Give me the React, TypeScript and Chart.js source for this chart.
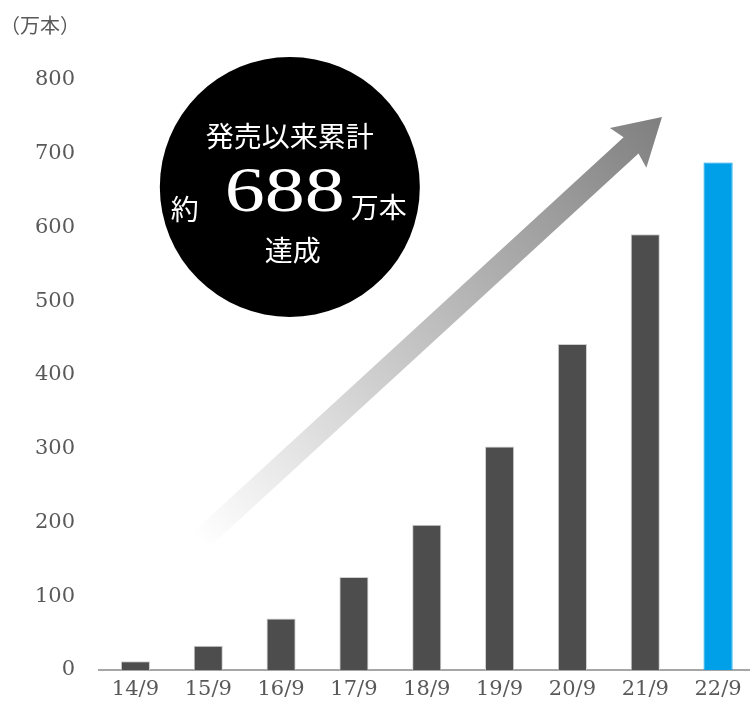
import React, { useEffect, useRef } from "react";
import { Chart, registerables } from "chart.js";

Chart.register(...registerables);

const categories = ["14/9", "15/9", "16/9", "17/9", "18/9", "19/9", "20/9", "21/9", "22/9"];
const salesValues = [12, 33, 70, 126, 197, 303, 442, 591, 688];
const yTickStep = 100;
const yMax = 800;
const unitLabel = "（万本）";
const badgeLine1 = "発売以来累計";
const badgePrefix = "約";
const badgeNumber = "688";
const badgeUnit = "万本";
const badgeLine3 = "達成";

const barColors = salesValues.map((_, i) => (i === salesValues.length - 1 ? "#00a0e9" : "#4d4d4d"));
const barBorders = salesValues.map((_, i) => (i === salesValues.length - 1 ? "#00a0e9" : "#cfcfcf"));

const CJK = '"Noto Sans CJK JP", "Noto Sans", sans-serif';
const SERIF = '"DejaVu Serif", serif';
const NUMSERIF = '"Liberation Serif", serif';

const decorPlugin = {
  id: "decor",
  beforeDatasetsDraw(chart: any) {
    const { ctx, scales } = chart;
    const x = scales.x;
    const y = scales.y;
    const x0 = x.getPixelForValue(0.886);
    const y0 = y.getPixelForValue(175);
    const x1 = x.getPixelForValue(7.23);
    const y1 = y.getPixelForValue(750);
    const dx = x1 - x0;
    const dy = y1 - y0;
    const len = Math.sqrt(dx * dx + dy * dy);
    const ang = Math.atan2(dy, dx);
    const shaftW = 22;
    const headL = 42;
    const headW = 27;
    ctx.save();
    const grad = ctx.createLinearGradient(x0, y0, x1, y1);
    grad.addColorStop(0, "rgba(255,255,255,1)");
    grad.addColorStop(1, "#7f7f7f");
    ctx.translate(x0, y0);
    ctx.rotate(ang);
    ctx.beginPath();
    ctx.moveTo(0, -shaftW / 2);
    ctx.lineTo(len - headL, -shaftW / 2);
    ctx.lineTo(len - headL - 4, -headW);
    ctx.lineTo(len, 0);
    ctx.lineTo(len - headL - 4, headW);
    ctx.lineTo(len - headL, shaftW / 2);
    ctx.lineTo(0, shaftW / 2);
    ctx.closePath();
    ctx.setTransform(1, 0, 0, 1, 0, 0);
    ctx.fillStyle = grad;
    ctx.fill();
    ctx.restore();
  },
  afterDatasetsDraw(chart: any) {
    const { ctx, scales } = chart;
    const x = scales.x;
    const y = scales.y;
    const cx = x.getPixelForValue(2.12);
    const cy = y.getPixelForValue(655);
    const r = 130;
    ctx.save();
    ctx.beginPath();
    ctx.arc(cx, cy, r, 0, Math.PI * 2);
    ctx.fillStyle = "#000000";
    ctx.fill();
    ctx.fillStyle = "#ffffff";
    ctx.textAlign = "center";
    ctx.textBaseline = "middle";
    ctx.font = `28px ${CJK}`;
    ctx.fillText(badgeLine1, cx, cy - 51);
    ctx.fillText(badgePrefix, cx - 105, cy + 22);
    ctx.fillText(badgeUnit, cx + 89, cy + 20);
    ctx.fillText(badgeLine3, cx + 3, cy + 63);
    ctx.textBaseline = "alphabetic";
    ctx.font = `64px ${NUMSERIF}`;
    ctx.translate(cx - 5, cy + 24);
    ctx.scale(1.25, 1);
    ctx.fillText(badgeNumber, 0, 0);
    ctx.restore();

    ctx.save();
    ctx.fillStyle = "#595959";
    ctx.font = `20px ${CJK}`;
    ctx.textAlign = "left";
    ctx.textBaseline = "middle";
    ctx.fillText(unitLabel, 0, 25);
    ctx.restore();
  },
};

export default function App() {
  const ref = useRef<HTMLCanvasElement | null>(null);
  useEffect(() => {
    if (!ref.current) return;
    const chart = new Chart(ref.current, {
      type: "bar",
      data: {
        labels: categories,
        datasets: [
          {
            data: salesValues,
            backgroundColor: barColors,
            borderColor: barBorders,
            borderWidth: 1,
            barPercentage: 0.4,
            categoryPercentage: 1,
          },
        ],
      },
      options: {
        animation: false,
        responsive: false,
        devicePixelRatio: 1,
        layout: { padding: { top: 80, right: 1.5, left: 0, bottom: 0 } },
        plugins: { legend: { display: false }, tooltip: { enabled: false } },
        scales: {
          x: {
            offset: true,
            grid: { display: false, drawTicks: false },
            border: { display: true, color: "#a6a6a6", width: 2 },
            ticks: { color: "#595959", font: { family: SERIF, size: 21 }, padding: 7, maxRotation: 0 },
            afterFit: (s: any) => {
              s.height = 37;
            },
          },
          y: {
            min: 0,
            max: yMax,
            grid: { display: false, drawTicks: false },
            border: { display: false },
            ticks: { stepSize: yTickStep, color: "#595959", font: { family: SERIF, size: 21 }, padding: 24 },
            afterFit: (s: any) => {
              s.width = 99;
            },
          },
        },
      },
      plugins: [decorPlugin],
    });
    return () => chart.destroy();
  }, []);
  return (
    <div style={{ position: "absolute", left: 0, top: 0, width: 750, height: 707, overflow: "hidden", background: "#fff" }}>
      <canvas ref={ref} width={756} height={707} style={{ display: "block" }} />
    </div>
  );
}
